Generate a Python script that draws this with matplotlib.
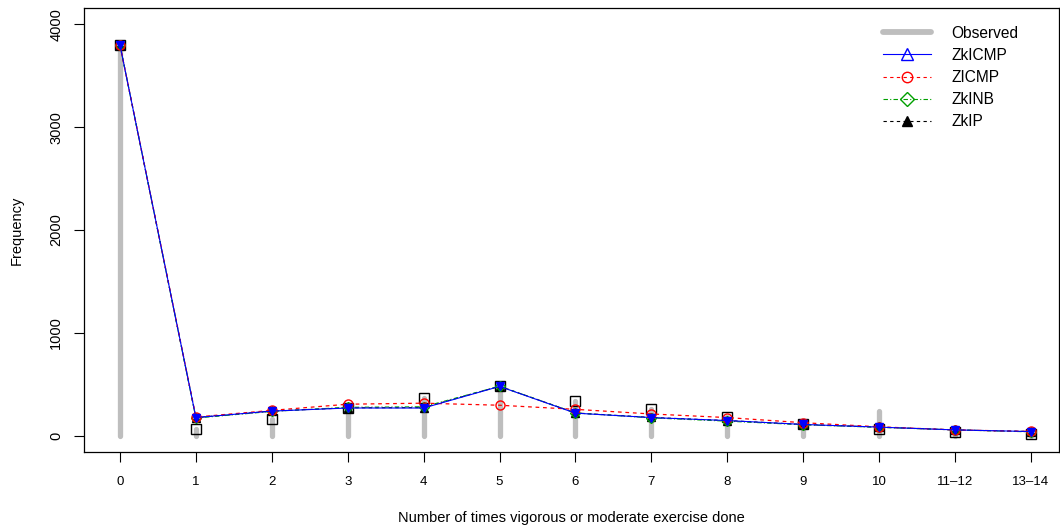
import matplotlib
matplotlib.use("Agg")
import matplotlib.pyplot as plt
from matplotlib.lines import Line2D
import numpy as np

plt.rcParams['font.family'] = ['Liberation Sans', 'DejaVu Sans']

categories = ["0", "1", "2", "3", "4", "5", "6", "7", "8", "9", "10", "11\u201312", "13\u201314"]
observed = [3800, 60, 160, 270, 365, 480, 340, 255, 185, 110, 235, 40, 25]
squares  = [3800, 60, 160, 270, 365, 485, 340, 255, 185, 110, 60, 30, 15]
zkicmp   = [3800, 175, 238, 268, 268, 478, 218, 175, 146, 108, 82, 55, 39]
zicmp    = [3800, 180, 245, 305, 315, 295, 255, 210, 175, 125, 85, 55, 40]
zkinb    = [3800, 170, 235, 275, 280, 480, 220, 172, 140, 105, 80, 55, 36]
zkip     = [3800, 175, 238, 270, 272, 480, 220, 176, 146, 108, 82, 55, 39]
yticks = [0, 1000, 2000, 3000, 4000]

x = np.arange(len(categories))

fig = plt.figure(figsize=(10.6, 5.29), dpi=100)
ax = fig.add_axes([84/1060, 1 - 452/529, (1059 - 84)/1060, (452 - 8)/529])

gray = '#BEBEBE'
green = '#00A000'
ax.vlines(x, 0, observed, color=gray, linewidth=3.8, capstyle='round', zorder=1)
ax.plot(x, squares, linestyle='none', marker='s', markersize=6.5,
        markerfacecolor='none', markeredgecolor='black', markeredgewidth=1.0, zorder=2)

ax.plot(x, zkip, color='black', linestyle=(0, (3, 3)), linewidth=0.8,
        marker='^', markersize=6, markerfacecolor='black', markeredgecolor='black', zorder=3)
ax.plot(x, zkinb, color=green, linestyle=(0, (4, 2, 1, 2)), linewidth=0.8,
        marker='D', markersize=5.5, markerfacecolor='none', markeredgecolor=green, zorder=4)
ax.plot(x, zicmp, color='red', linestyle=(0, (3, 3)), linewidth=0.9,
        marker='o', markersize=6.5, markerfacecolor='none', markeredgecolor='red', zorder=5)
ax.plot(x, zkicmp, color='blue', linestyle='-', linewidth=0.8,
        marker='v', markersize=5.5, markerfacecolor='blue', markeredgecolor='blue', zorder=6)

ax.set_xlim(-0.474, 12.37)
ax.set_ylim(-160, 4160)
ax.set_xticks(x)
ax.set_xticklabels(categories, fontsize=9.5)
ax.set_yticks(yticks)
ax.set_yticklabels([str(v) for v in yticks], fontsize=10.5, rotation=90, va='center')
ax.tick_params(axis='x', length=7, width=0.8, pad=10)
ax.tick_params(axis='y', length=7, width=0.8, pad=8)
for s in ax.spines.values():
    s.set_linewidth(0.9)

ax.set_xlabel("Number of times vigorous or moderate exercise done", fontsize=10.5, labelpad=17)
ax.set_ylabel("Frequency", fontsize=10.5, labelpad=18)

handles = [
    Line2D([], [], color=gray, linewidth=4.2, solid_capstyle='round'),
    Line2D([], [], color='blue', linestyle='-', linewidth=0.8, marker='^', markersize=8,
           markerfacecolor='none', markeredgecolor='blue'),
    Line2D([], [], color='red', linestyle=(0, (3, 3)), linewidth=0.8, marker='o', markersize=7.5,
           markerfacecolor='none', markeredgecolor='red'),
    Line2D([], [], color=green, linestyle=(0, (4, 2, 1, 2)), linewidth=0.8, marker='D', markersize=7,
           markerfacecolor='none', markeredgecolor=green),
    Line2D([], [], color='black', linestyle=(0, (3, 3)), linewidth=0.8, marker='^', markersize=7,
           markerfacecolor='black', markeredgecolor='black'),
]
labels = ["Observed", "ZkICMP", "ZICMP", "ZkINB", "ZkIP"]
fig.legend(handles, labels, loc='upper left', bbox_to_anchor=(875/1060, 1 - 18/529),
           frameon=False, fontsize=11.2, handlelength=3.1, handletextpad=1.3,
           labelspacing=0.46, borderpad=0)

fig.savefig("out.png", dpi=100)
